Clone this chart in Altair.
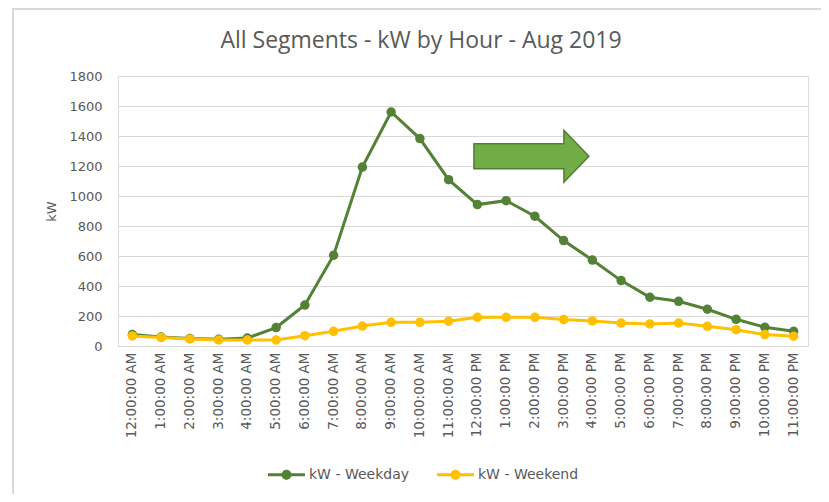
import altair as alt
import pandas as pd

hours = ["12:00:00 AM", "1:00:00 AM", "2:00:00 AM", "3:00:00 AM", "4:00:00 AM",
         "5:00:00 AM", "6:00:00 AM", "7:00:00 AM", "8:00:00 AM", "9:00:00 AM",
         "10:00:00 AM", "11:00:00 AM", "12:00:00 PM", "1:00:00 PM", "2:00:00 PM",
         "3:00:00 PM", "4:00:00 PM", "5:00:00 PM", "6:00:00 PM", "7:00:00 PM",
         "8:00:00 PM", "9:00:00 PM", "10:00:00 PM", "11:00:00 PM"]
weekday = [76, 60, 50, 45, 53, 123, 273, 605, 1193, 1560, 1383, 1109,
           943, 969, 865, 703, 573, 436, 325, 298, 245, 178, 125, 98]
weekend = [67, 56, 47, 40, 40, 40, 69, 98, 133, 158, 158, 165,
           191, 191, 191, 176, 167, 153, 147, 153, 131, 109, 76, 65]
series_names = ["kW - Weekday", "kW - Weekend"]
series_colors = ["#538135", "#FFC000"]
y_ticks = [0, 200, 400, 600, 800, 1000, 1200, 1400, 1600, 1800]
arrow_at = ["2:00:00 PM"]
arrow_level = [1265]

df_wd = pd.DataFrame({"hour": hours, "kW": weekday, "series": series_names[0]})
df_we = pd.DataFrame({"hour": hours, "kW": weekend, "series": series_names[1]})
df_arrow = pd.DataFrame({"hour": arrow_at, "kW": arrow_level})

FONT = "DejaVu Sans"
GRAY = "#595959"

x_axis = alt.Axis(labelAngle=270, labelFont=FONT, labelFontSize=13.5,
                  labelColor=GRAY, ticks=False, domainColor="#d9d9d9",
                  domainWidth=1, labelPadding=6, grid=False, labelOverlap=False)
y_axis = alt.Axis(values=y_ticks, format="d", labelOverlap=False,
                  labelFont=FONT, labelFontSize=13, labelColor=GRAY,
                  ticks=False, domain=False, gridColor="#d9d9d9",
                  gridWidth=1, labelPadding=16, titleFont=FONT,
                  titleFontSize=13, titleColor=GRAY,
                  titleFontWeight="normal", titlePadding=10)
x_scale = alt.Scale(type="band", paddingInner=0, paddingOuter=0)
y_scale = alt.Scale(domain=[0, 1800], nice=False)

x_enc = alt.X("hour:N", sort=hours, title=None, scale=x_scale, axis=x_axis)
y_enc = alt.Y("kW:Q", title="kW", scale=y_scale, axis=y_axis)

legend_shape = ("M -1 -0.08 L 1 -0.08 L 1 0.08 L -1 0.08 Z "
                "M 0.27 0 A 0.27 0.27 0 1 1 -0.27 0 A 0.27 0.27 0 1 1 0.27 0 Z")

color_enc = alt.Color("series:N",
                      scale=alt.Scale(domain=series_names, range=series_colors),
                      legend=alt.Legend(title=None, orient="none", direction="horizontal",
                                        legendX=150, legendY=380,
                                        symbolType=legend_shape, symbolSize=1369,
                                        symbolStrokeWidth=0, symbolOpacity=1,
                                        labelFont=FONT, labelFontSize=14,
                                        labelColor=GRAY, columnPadding=27,
                                        labelOffset=4))

def series_layer(df):
    line = alt.Chart(df).mark_line(strokeWidth=3).encode(x=x_enc, y=y_enc, color=color_enc)
    pts = alt.Chart(df).mark_point(filled=True, size=90, opacity=1).encode(
        x=x_enc, y=y_enc, color=color_enc)
    return line + pts

arrow_path = ("M -1.06 -0.217 L 0.505 -0.217 L 0.505 -0.452 L 0.94 0 "
              "L 0.505 0.452 L 0.505 0.217 L -1.06 0.217 Z")
arrow = alt.Chart(df_arrow).mark_point(
    shape=arrow_path, size=13225, filled=True, fill="#70AD47",
    stroke="#507E32", strokeWidth=1.5, opacity=1
).encode(x=x_enc, y=y_enc)

border = alt.Chart(df_arrow).mark_rule(color="#d9d9d9", strokeWidth=2).encode(
    x=alt.value(-105), x2=alt.value(-105), y=alt.value(-68), y2=alt.value(418))
border_top = alt.Chart(df_arrow).mark_rule(color="#d9d9d9", strokeWidth=2).encode(
    x=alt.value(-105), x2=alt.value(703), y=alt.value(-67), y2=alt.value(-67))

chart = alt.layer(series_layer(df_wd), series_layer(df_we), arrow, border, border_top).properties(
    width=690, height=270,
    title=alt.TitleParams("All Segments - kW by Hour - Aug 2019", font="Open Sans",
                          fontSize=23, fontWeight="normal", color=GRAY,
                          anchor="middle", dx=-42, offset=0, dy=46),
    autosize=alt.AutoSizeParams(type="none"),
    padding={"left": 110, "top": 68, "right": 13, "bottom": 148},
).configure_view(stroke=None).configure(background="white")

chart.save("out.html", embed_options={"renderer": "svg", "actions": False})
